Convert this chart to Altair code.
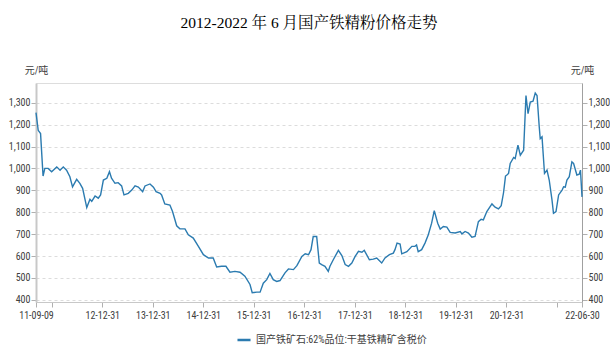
import altair as alt
import pandas as pd

title_text = "2012-2022 年 6 月国产铁精粉价格走势"
unit_text = "元/吨"
series_name = "国产铁矿石:62%品位:干基铁精矿含税价"

dates = [
    "2011-09-09", "2011-09-25", "2011-10-12", "2011-10-30", "2011-11-12", "2011-12-06", "2011-12-31",
    "2012-02-06", "2012-03-01", "2012-03-24", "2012-04-17", "2012-05-11", "2012-05-30", "2012-06-29",
    "2012-07-22", "2012-08-11", "2012-09-10", "2012-10-03", "2012-10-16", "2012-11-09", "2012-12-02",
    "2012-12-19", "2013-01-08", "2013-02-02", "2013-02-21", "2013-03-08", "2013-04-02", "2013-04-25",
    "2013-05-20", "2013-06-06", "2013-07-07", "2013-08-01", "2013-08-25", "2013-09-18", "2013-10-19",
    "2013-11-05", "2013-12-11", "2014-01-05", "2014-01-24", "2014-02-22", "2014-03-05", "2014-03-28",
    "2014-05-04", "2014-05-23", "2014-06-22", "2014-07-15", "2014-08-21", "2014-09-14", "2014-10-20",
    "2014-11-26", "2015-01-01", "2015-02-07", "2015-03-13", "2015-04-07", "2015-05-12", "2015-06-13",
    "2015-07-12", "2015-08-17", "2015-09-23", "2015-10-28", "2015-12-04", "2015-12-20", "2016-01-22",
    "2016-02-15", "2016-03-09", "2016-04-03", "2016-04-26", "2016-05-20", "2016-06-14", "2016-07-08",
    "2016-08-13", "2016-09-07", "2016-10-13", "2016-11-07", "2016-12-13", "2017-01-06", "2017-01-30",
    "2017-02-17", "2017-03-05", "2017-03-30", "2017-04-18", "2017-05-05", "2017-05-29", "2017-06-22",
    "2017-07-04", "2017-07-28", "2017-09-03", "2017-09-28", "2017-10-22", "2017-11-15", "2017-12-09",
    "2018-01-02", "2018-01-26", "2018-02-20", "2018-03-09", "2018-04-15", "2018-05-13", "2018-06-07",
    "2018-07-13", "2018-08-06", "2018-09-07", "2018-10-05", "2018-10-17", "2018-11-01", "2018-11-23",
    "2018-12-05", "2019-01-11", "2019-02-16", "2019-03-10", "2019-03-22", "2019-04-03", "2019-04-28",
    "2019-05-22", "2019-06-15", "2019-07-09", "2019-07-28", "2019-08-22", "2019-09-09", "2019-10-02",
    "2019-10-27", "2019-11-20", "2019-12-26", "2020-02-01", "2020-02-13", "2020-03-07", "2020-03-31",
    "2020-04-25", "2020-05-18", "2020-06-11", "2020-07-01", "2020-07-17", "2020-08-11", "2020-09-17",
    "2020-10-10", "2020-11-03", "2020-11-23", "2020-12-10", "2020-12-24", "2021-01-03", "2021-01-15",
    "2021-01-27", "2021-02-21", "2021-03-04", "2021-03-24", "2021-04-10", "2021-05-04", "2021-05-21",
    "2021-06-05", "2021-06-21", "2021-07-11", "2021-07-27", "2021-08-09", "2021-08-25", "2021-09-01",
    "2021-09-14", "2021-10-02", "2021-10-20", "2021-11-05", "2021-11-25", "2021-12-06", "2021-12-24",
    "2022-01-12", "2022-02-06", "2022-02-17", "2022-03-01", "2022-03-13", "2022-03-30", "2022-04-18",
    "2022-04-30", "2022-05-24", "2022-06-10", "2022-06-19", "2022-06-30",
]

prices = [
    1255, 1174, 1159, 965, 1000, 1000, 985,
    1007, 992, 1007, 992, 962, 916, 950,
    932, 909, 821, 859, 850, 874, 864,
    879, 947, 955, 985, 955, 932, 935,
    920, 879, 886, 901, 920, 915, 894,
    920, 929, 914, 894, 886, 879, 838,
    833, 803, 738, 724, 724, 697, 682,
    644, 606, 591, 591, 550, 553, 553,
    526, 530, 526, 508, 470, 432, 435,
    435, 476, 492, 520, 492, 484, 488,
    523, 541, 538, 556, 598, 610, 606,
    629, 689, 689, 568, 561, 553, 530,
    553, 583, 626, 602, 561, 553, 568,
    598, 621, 617, 626, 583, 586, 591,
    568, 591, 606, 613, 629, 659, 655,
    610, 620, 644, 644, 650, 620, 629,
    659, 697, 750, 807, 750, 723, 735,
    732, 708, 705, 712, 701, 712, 705,
    686, 689, 757, 768, 765, 803, 838,
    823, 815, 830, 890, 965, 970, 977,
    1023, 1050, 1045, 1106, 1060, 1083, 1333,
    1250, 1303, 1307, 1344, 1333, 1189, 1136,
    1144, 977, 992, 947, 856, 795, 803,
    879, 901, 916, 914, 947, 962, 1030,
    1023, 970, 974, 992, 870,
]

y_ticks = [400, 500, 600, 700, 800, 900, 1000, 1100, 1200, 1300]
y_domain = [390, 1390]
x_ticks = [
    (2011, 9, 9), (2011, 12, 31), (2012, 12, 31), (2013, 12, 31), (2014, 12, 31),
    (2015, 12, 31), (2016, 12, 31), (2017, 12, 31), (2018, 12, 31), (2019, 12, 31),
    (2020, 12, 31), (2021, 12, 31), (2022, 6, 30),
]
hidden_x_labels = ["11-12-31", "21-12-31"]

line_color = "#2b7bb0"
label_font = "Liberation Sans Narrow, Roboto Condensed, Noto Sans CJK SC"
text_color = "#404040"

df = pd.DataFrame({"date": dates, "price": prices, "series": series_name})

x_values = [alt.DateTime(year=y, month=m, date=d, utc=True) for (y, m, d) in x_ticks]
x_scale = alt.Scale(type="utc", domain=[x_values[0], x_values[-1]])
y_scale = alt.Scale(domain=y_domain, nice=False, zero=False)

hidden_js = "[" + ",".join("'" + s + "'" for s in hidden_x_labels) + "]"
x_label_expr = (
    "indexof(" + hidden_js + ", utcFormat(datum.value, '%y-%m-%d')) >= 0 ? '' : "
    "utcFormat(datum.value, '%y-%m-%d')"
)

x_axis = alt.Axis(
    values=x_values, labelExpr=x_label_expr, grid=False, title=None,
    domainColor="#c8c8c8", domainWidth=1, tickColor="#b0b0b0", tickSize=5,
    labelFont=label_font, labelFontSize=10, labelColor=text_color,
    labelPadding=3, labelFlush=False, labelOverlap=False, labelBound=False,
)

common_y = dict(
    values=y_ticks, format=",d", tickSize=5, tickColor="#b0b0b0",
    labelFont=label_font, labelFontSize=10, labelColor=text_color, labelPadding=1,
    title=unit_text, titleAngle=0, titleX=0, titleY=-13, titleAlign="center",
    titleBaseline="middle", titleFontWeight="normal", titleFontSize=10,
    titleFont=label_font, titleColor=text_color,
)

left_axis = alt.Axis(
    orient="left", grid=True, gridDash=[3, 3], gridColor="#dcdcdc",
    domainColor="#c8c8c8", domainWidth=2, **common_y,
)
right_axis = alt.Axis(
    orient="right", grid=False, domainColor="#a0a0a0", domainWidth=1, **common_y,
)

main = alt.Chart(df).mark_line(strokeWidth=1.4).encode(
    x=alt.X("date:T", scale=x_scale, axis=x_axis),
    y=alt.Y("price:Q", scale=y_scale, axis=left_axis),
    color=alt.Color(
        "series:N",
        scale=alt.Scale(range=[line_color]),
        legend=alt.Legend(
            orient="none", legendX=200, legendY=249, title=None,
            symbolType="stroke", symbolStrokeWidth=2.5, symbolSize=170,
            labelFont=label_font, labelFontSize=10, labelColor=text_color,
            labelLimit=400,
        ),
    ),
)

ghost = alt.Chart(df).mark_line(opacity=0).encode(
    x=alt.X("date:T", scale=x_scale, axis=x_axis),
    y=alt.Y("price:Q", scale=y_scale, axis=right_axis),
)

chart = alt.layer(main, ghost).resolve_axis(y="independent").properties(
    width=546,
    height=219,
    autosize=alt.AutoSizeParams(type="none"),
    padding={"left": 36, "top": 83, "right": 28, "bottom": 44},
    title=alt.TitleParams(
        title_text, font="Liberation Serif, Noto Serif CJK SC, Noto Sans CJK SC",
        fontSize=15.5, fontWeight="normal", color="#000000", anchor="middle",
        offset=34,
    ),
).configure_view(stroke=None).configure(background="white")

chart.save("out.html", embed_options={"renderer": "svg", "actions": False})
